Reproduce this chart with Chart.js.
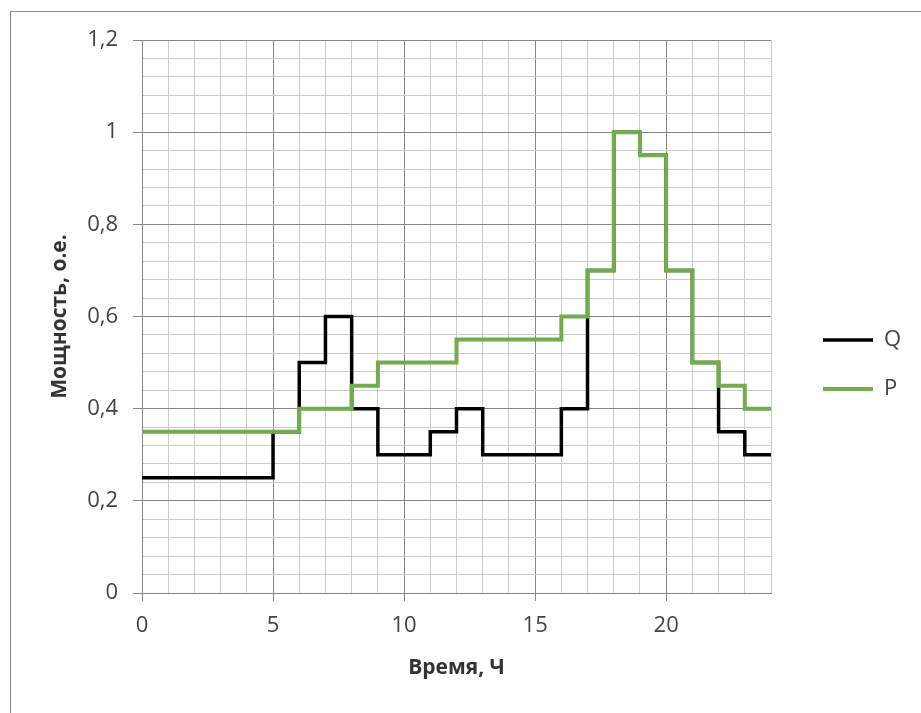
<!DOCTYPE html>
<html>
<head>
<meta charset="utf-8">
<script src="https://cdn.jsdelivr.net/npm/chart.js@4/dist/chart.umd.min.js"></script>
<style>
  html, body { margin: 0; padding: 0; background: #fff; }
  #frame { position: absolute; left: 10px; top: 11px; width: 1000px; height: 800px; border: 1px solid #8a8a8a; }
  #wrap { position: absolute; left: 0; top: 0; width: 921px; height: 713px; }
</style>
</head>
<body>
<div id="frame"></div>
<div id="wrap"><canvas id="c" width="921" height="713"></canvas></div>
<script>
// hour marks; the value at hour i holds until hour i+1
const hours = [0, 1, 2, 3, 4, 5, 6, 7, 8, 9, 10, 11, 12, 13, 14, 15, 16, 17, 18, 19, 20, 21, 22, 23, 24];
const qValues = [0.25, 0.25, 0.25, 0.25, 0.25, 0.35, 0.5, 0.6, 0.4, 0.3, 0.3, 0.35, 0.4, 0.3, 0.3, 0.3, 0.4, 0.7, 1.0, 0.95, 0.7, 0.5, 0.35, 0.3, 0.3];
const pValues = [0.35, 0.35, 0.35, 0.35, 0.35, 0.35, 0.4, 0.4, 0.45, 0.5, 0.5, 0.5, 0.55, 0.55, 0.55, 0.55, 0.6, 0.7, 1.0, 0.95, 0.7, 0.5, 0.45, 0.4, 0.4];
const seriesNames = ["Q", "P"];
const xTitle = "Время, Ч";
const yTitle = "Мощность, о.е.";

const TICK = "#444444";
const MAJOR = "#878787";
const MINOR = "#cccccc";

function pts(vals) { return hours.map(function (h, i) { return { x: h, y: vals[i] }; }); }
function xMajor(v) { return Math.round(v) % 5 === 0; }
function yMajor(v) { return Math.round(v / 0.04) % 5 === 0; }

// legend: fixed box width + nudge, like Excel puts it
const legendPlace = {
  id: "legendPlace",
  beforeLayout: function (chart) {
    const lg = chart.legend;
    if (!lg || lg._fixed) return;
    const fit = lg.fit;
    lg.fit = function () { fit.call(this); this.width = 150; };
    lg._fixed = true;
  },
  afterLayout: function (chart) {
    const lg = chart.legend;
    lg.left += 25; lg.top -= 12; lg.bottom -= 12;
  }
};

new Chart(document.getElementById("c"), {
  type: "line",
  data: {
    datasets: [
      { label: seriesNames[0], data: pts(qValues), borderColor: "#000000", backgroundColor: "#000000",
        borderWidth: 3.5, stepped: true, pointRadius: 0, order: 1, borderJoinStyle: "miter" },
      { label: seriesNames[1], data: pts(pValues), borderColor: "#72ac4d", backgroundColor: "#72ac4d",
        borderWidth: 4, stepped: true, pointRadius: 0, order: 0, borderJoinStyle: "miter" }
    ]
  },
  plugins: [legendPlace],
  options: {
    responsive: false, animation: false,
    layout: { padding: { top: 40, left: 0, right: 0, bottom: 0 } },
    plugins: {
      tooltip: { enabled: false },
      legend: {
        position: "right",
        labels: {
          usePointStyle: true, pointStyle: "line", pointStyleWidth: 50, padding: 27,
          color: TICK, font: { family: "Open Sans", size: 22 },
          sort: function (a, b) { return a.datasetIndex - b.datasetIndex; }
        }
      }
    },
    scales: {
      x: {
        type: "linear", min: 0, max: 24,
        afterFit: function (s) { s.height = 120; },
        border: { color: "#868686", width: 1 },
        grid: {
          color: function (c) { return xMajor(c.tick.value) ? MAJOR : MINOR; },
          tickColor: function (c) { return xMajor(c.tick.value) ? MAJOR : "rgba(0,0,0,0)"; },
          tickLength: 8
        },
        ticks: {
          stepSize: 1, autoSkip: false, maxRotation: 0, padding: 12,
          color: TICK, font: { family: "Open Sans", size: 22 },
          callback: function (v) { return xMajor(v) && v < 24 ? String(v) : ""; }
        },
        title: { display: true, text: xTitle, color: "#333333",
          font: { family: "Open Sans", size: 21, weight: "bold" }, padding: { top: 0, bottom: 32 } }
      },
      y: {
        min: 0, max: 1.2,
        afterFit: function (s) { s.width = 142; },
        border: { color: "#868686", width: 1 },
        grid: {
          color: function (c) { return yMajor(c.tick.value) ? MAJOR : MINOR; },
          tickColor: function (c) { return yMajor(c.tick.value) ? MAJOR : "rgba(0,0,0,0)"; },
          tickLength: 9
        },
        ticks: {
          stepSize: 0.04, autoSkip: false, padding: 15,
          color: TICK, font: { family: "Open Sans", size: 22 },
          callback: function (v) { return yMajor(v) ? String(+v.toFixed(1)).replace(".", ",") : ""; }
        },
        title: { display: true, text: yTitle, color: "#333333",
          font: { family: "Open Sans", size: 21, weight: "bold" }, padding: { top: 47, bottom: 0 } }
      }
    }
  }
});
</script>
</body>
</html>
